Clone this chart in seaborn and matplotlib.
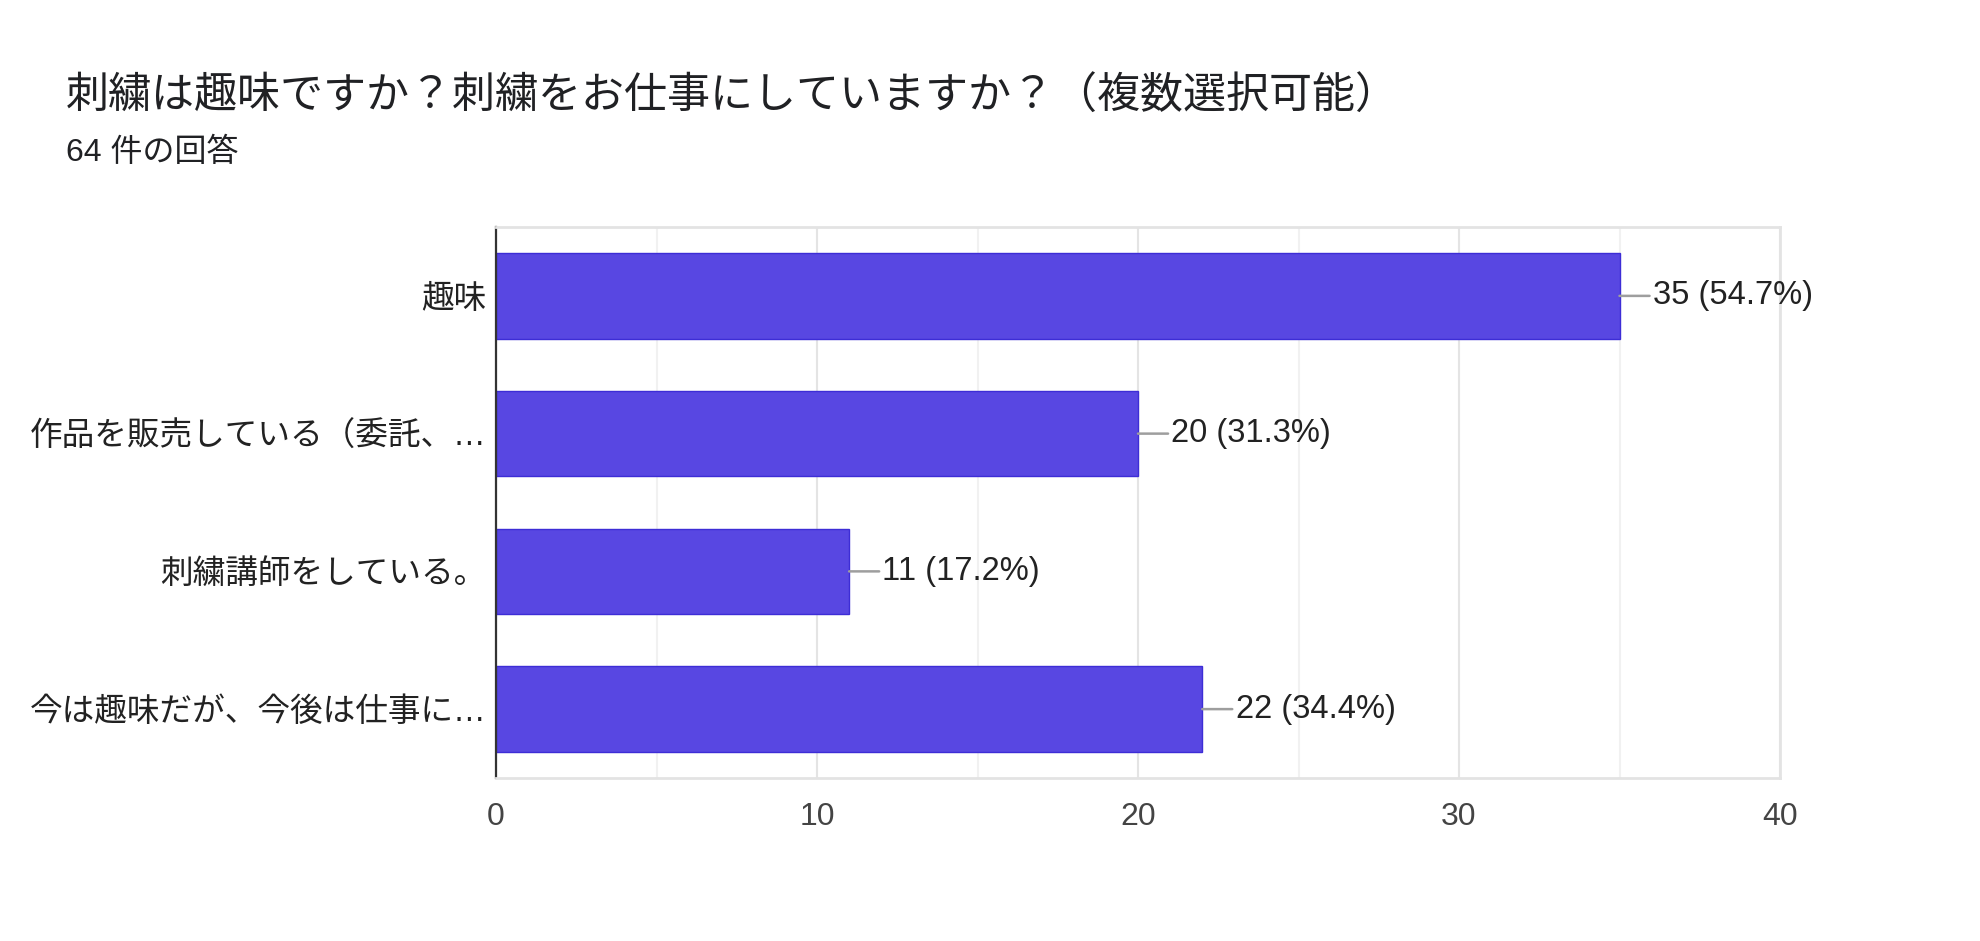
import matplotlib
matplotlib.use('Agg')
from matplotlib import pyplot as plt
from matplotlib.ticker import MultipleLocator
import seaborn as sns
import pandas as pd

# data
title = '刺繍は趣味ですか？刺繍をお仕事にしていますか？（複数選択可能）'
subtitle = '64 件の回答'
categories = ['趣味', '作品を販売している（委託、…', '刺繍講師をしている。', '今は趣味だが、今後は仕事に…']
counts = [35, 20, 11, 22]
percents = [54.7, 31.3, 17.2, 34.4]
xticks = [0, 10, 20, 30, 40]

df = pd.DataFrame({'answer': categories, 'count': counts})

sns.set_style('white')
plt.rcParams['font.family'] = ['Liberation Sans', 'Noto Sans CJK JP', 'DejaVu Sans']

fig = plt.figure(figsize=(19.8, 9.41), dpi=100)
ax = fig.add_axes([496/1980, 1-778/941, (1780-496)/1980, (778-227)/941])

sns.barplot(data=df, x='count', y='answer', orient='h', color='#5847E2',
            saturation=1, width=0.62, edgecolor='#3D2DD6', linewidth=1, ax=ax)

for i, (c, p) in enumerate(zip(counts, percents)):
    ax.annotate(f'{c} ({p}%)', xy=(c, i), xytext=(24, 0), textcoords='offset points',
                ha='left', va='center', fontsize=23.5, color='#222222',
                arrowprops=dict(arrowstyle='-', color='#9e9e9e', lw=1.8,
                                shrinkA=0, shrinkB=0))

ax.set_xlim(0, 40)
ax.set_xticks(xticks)
ax.xaxis.set_minor_locator(MultipleLocator(5))
ax.set_axisbelow(True)
ax.grid(axis='x', which='major', color='#e4e4e4', lw=1.5)
ax.grid(axis='x', which='minor', color='#f1f1f1', lw=1.5)
ax.grid(axis='y', visible=False)

ax.tick_params(axis='x', which='both', length=0, labelsize=23, labelcolor='#444444', pad=17)
ax.tick_params(axis='y', length=0, labelsize=23.5, labelcolor='#222222', pad=7)
ax.set_xlabel('')
ax.set_ylabel('')

for side in ['top', 'right', 'bottom']:
    ax.spines[side].set_color('#e3e3e3')
    ax.spines[side].set_linewidth(2)
ax.spines['left'].set_color('#333333')
ax.spines['left'].set_linewidth(1.6)

fig.text(66/1980, 1-97/941, title, fontsize=31, color='#202124', va='center', ha='left')
fig.text(66/1980, 1-153/941, subtitle, fontsize=23, color='#202124', va='center', ha='left')

plt.savefig('out.png', dpi=100)
plt.close()
